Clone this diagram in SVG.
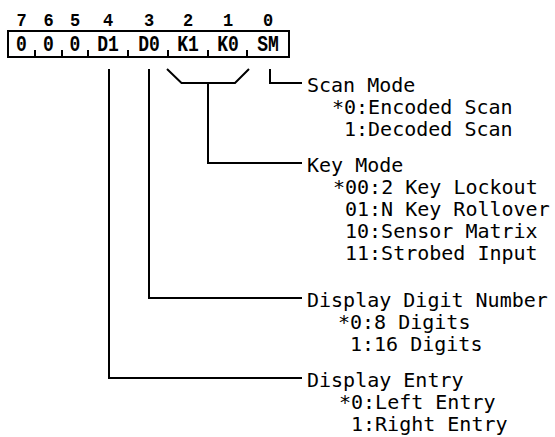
<svg xmlns="http://www.w3.org/2000/svg" width="555" height="437" viewBox="0 0 555 437">
<style>
.bit{font-family:"Liberation Mono","DejaVu Sans Mono",monospace;font-weight:bold;font-size:17px;text-anchor:middle;fill:#000}
.cell{font-family:"Liberation Mono","DejaVu Sans Mono",monospace;font-weight:bold;font-size:18px;text-anchor:middle;fill:#000}
.lbl{font-family:"DejaVu Sans Mono","Liberation Mono",monospace;font-size:20px;fill:#000;white-space:pre}
.ln{fill:none;stroke:#000;stroke-width:2}
</style>
<rect width="555" height="437" fill="#fff"/>
<g id="register">
<g class="bit" transform="translate(0,26) scale(1,1.1) translate(0,-26)">
<text x="21.5" y="26">7</text><text x="48.5" y="26">6</text><text x="75" y="26">5</text><text x="108" y="26">4</text>
<text x="149" y="26">3</text><text x="188" y="26">2</text><text x="228" y="26">1</text><text x="268" y="26">0</text>
</g>
<path class="ln" d="M8 31 H289 V57 H8 Z M35 50 V57 M62 50 V57 M88 50 V57 M128 50 V57 M168 50 V57 M208 50 V57 M247 50 V57"/>
<g class="cell" transform="translate(0,51) scale(1,1.22) translate(0,-51)">
<text x="21.5" y="51">0</text><text x="48.5" y="51">0</text><text x="75" y="51">0</text><text x="108" y="51">D1</text>
<text x="149" y="51">D0</text><text x="188" y="51">K1</text><text x="228" y="51">K0</text><text x="268" y="51">SM</text>
</g>
</g>
<g id="connectors" class="ln">
<path d="M270 69 V83 H302"/>
<path d="M167 69 L181.5 83 H235 L249 69"/>
<path d="M208 83 V163 H302"/>
<path d="M149 69 V298 H302"/>
<path d="M109 69 V378 H302"/>
</g>
<g id="scan-mode" class="lbl">
<text x="307" y="92">Scan Mode</text>
<text x="332" y="114">*0:Encoded Scan</text>
<text x="344" y="136">1:Decoded Scan</text>
</g>
<g id="key-mode" class="lbl">
<text x="307" y="172">Key Mode</text>
<text x="333" y="194">*00:2 Key Lockout</text>
<text x="345" y="216">01:N Key Rollover</text>
<text x="345" y="238">10:Sensor Matrix</text>
<text x="345" y="260">11:Strobed Input</text>
</g>
<g id="display-digit-number" class="lbl">
<text x="307" y="307">Display Digit Number</text>
<text x="338" y="329">*0:8 Digits</text>
<text x="350" y="351">1:16 Digits</text>
</g>
<g id="display-entry" class="lbl">
<text x="307" y="387">Display Entry</text>
<text x="339" y="409">*0:Left Entry</text>
<text x="351" y="431">1:Right Entry</text>
</g>
</svg>
